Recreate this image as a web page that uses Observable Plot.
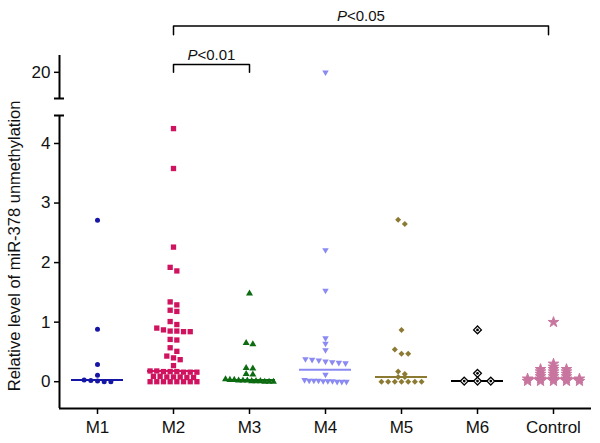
<!DOCTYPE html>
<html><head><meta charset="utf-8">
<script src="https://cdn.jsdelivr.net/npm/d3@7"></script>
<script src="https://cdn.jsdelivr.net/npm/@observablehq/plot@0.6"></script>
<style>
body{margin:0;background:#fff}
#chart{width:600px;height:443px}
</style>
</head><body><div id="chart"></div>
<script>
// ---- data ----
const groups = ["M1","M2","M3","M4","M5","M6","Control"];
const m1 = [2.71,0.88,0.29,0.11,0.03,0.02,0.01,0,0];
const m2 = [4.25,3.58,2.26,1.92,1.86,1.34,1.29,1.20,1.18,1.01,0.96,0.90,0.87,0.85,0.85,0.84,0.84,0.71,0.70,0.57,0.51,0.43,0.40,0.37,0.27,
            0.18,0.18,0.17,0.17,0.17,0.16,0.16,0.16, 0.09,0.09,0.08,0.08,0.08,0.07,0.07, 0,0,0,0,0,0,0,0];
const m3 = [1.48,0.65,0.63,0.23,0.22,0.13,0.12,0.04,0.03,0.03,0.02,0.02,0.02,0.01,0.01,0.01,0,0,0];
const m4 = [20,2.21,1.53,0.73,0.64,0.53,0.38,0.37,0.36,0.34,0.33,0.32,0.31,0.12,0.03,0.02,0.02,0.02,0.01,0.01,0.01,0,0,0];
const m5 = [2.72,2.65,0.87,0.54,0.47,0.47,0.17,0.13,0.08,0.08,0,0,0,0,0,0,0];
const m6 = [0.87,0.14,0.01,0.01,0.01];
const control = [1.0,0.30,0.25,0.21,0.21,0.21,0.17,0.17,0.17,0.13,0.13,0.13,0.09,0.09,0.09,0.05,0.05,0.05,0.05,0.05,0.01,0.01,0.01,0.01,0.01];
const series = [m1,m2,m3,m4,m5,m6,control];
const medians = [0.03,0.18,0.03,0.20,0.08,0.01,0.06];
const yTicks = [0,1,2,3,4,20];
const comparisons = [
  {from:"M2", to:"M3", p:"<0.01"},
  {from:"M2", to:"Control", p:"<0.05"}
];
const yLabel = "Relative level of miR-378 unmethylation";

// ---- layout / styles ----
const W = 600, H = 443, ML = 58, MR = 9, MB = 35;
const bw = (W - ML - MR) / groups.length;
const yDomain = [-0.45, 4.47, 19.56, 21.207];   // broken axis: lower segment, gap, upper segment
const yRange  = [408, 115, 98, 0];
const upperTop = 20.283;
const bracketLevels = [{top:20.13, leg:20.0, trim:0}, {top:20.78, leg:20.63, trim:5}];
const font = "'Liberation Sans', Arial, Helvetica, sans-serif";

const styles = {
  M1:      {symbol:"circle",   fill:"#1616a6", r:2.5, gap:6.7, maxW:48, rowH:4.5},
  M2:      {symbol:"square",   fill:"#d0135f", r:3.0, gap:6.7, maxW:48, rowH:4.5},
  M3:      {symbol:"triangle", fill:"#0d6b12", r:2.6, gap:6.7, maxW:48, rowH:4.5},
  M4:      {symbol:"triangle", fill:"#8a8af2", r:2.4, gap:6.7, maxW:42, rowH:4.5, rotate:180},
  M5:      {symbol:"diamond2", fill:"#8c7a33", r:2.7, gap:6.7, maxW:42, rowH:4.5},
  M6:      {symbol:"diamond2", fill:"#fff", stroke:"#000", sw:1.3, r:3.5, gap:13.3, maxW:48, rowH:4.5},
  Control: {symbol:"star",     fill:"#c8759f", stroke:"#c8759f", sw:1, r:3.3, gap:13, maxW:52, rowH:2}
};
const color = {M1:"#1616a6",M2:"#d0135f",M3:"#0d6b12",M4:"#8a8af2",M5:"#8c7a33",M6:"#000",Control:"#c8759f"};

const yOpts = {type:"linear", domain:yDomain, range:yRange};
const yScale = Plot.scale({y:yOpts});

// GraphPad-like scatter layout: rows by pixel proximity, centred within each row
function rowOffsets(values, gap, maxW, rowH) {
  const idx = d3.range(values.length).sort((a,b) => values[b]-values[a]);
  const off = new Array(values.length).fill(0);
  let row = [], startPx = null;
  const flush = () => {
    const n = row.length;
    const s = n > 1 ? Math.min(gap, maxW/(n-1)) : 0;
    row.forEach((k,i) => off[k] = (i-(n-1)/2)*s);
    row = [];
  };
  for (const k of idx) {
    const px = yScale.apply(values[k]);
    if (row.length && px - startPx > rowH + 1e-9) flush();
    if (!row.length) startPx = px;
    row.push(k);
  }
  flush();
  return off;
}

const marks = [];

// axis lines (broken y axis + x axis)
const axisSegs = [{group:"M1", y1:yDomain[0], y2:yDomain[1]}, {group:"M1", y1:yDomain[2], y2:upperTop}];
marks.push(Plot.ruleX(axisSegs, {fx:"group", x:() => -bw/2, y1:"y1", y2:"y2", stroke:"#000", strokeWidth:2}));
marks.push(Plot.ruleY([{group:"M1", y:yDomain[1]}, {group:"M1", y:yDomain[2]}],
  {fx:"group", y:"y", x1:() => -bw/2, x2:() => -bw/2, insetLeft:-5, insetRight:-5, stroke:"#000", strokeWidth:2}));
marks.push(Plot.ruleY([yDomain[0]], {stroke:"#000", strokeWidth:2}));

// median lines
marks.push(Plot.ruleY(groups.map((g,i) => ({group:g, median:medians[i]})),
  {fx:"group", y:"median", stroke:d => color[d.group], strokeWidth:2, insetLeft:12, insetRight:12}));

// points
groups.forEach((g, gi) => {
  const st = styles[g];
  const vals = series[gi];
  const off = rowOffsets(vals, st.gap, st.maxW, st.rowH);
  const recs = vals.map((v,i) => ({group:g, value:v, off:off[i]}));
  marks.push(Plot.dot(recs, {fx:"group", x:"off", y:"value", symbol:st.symbol, r:st.r,
    fill:st.fill, stroke:st.stroke ?? "none", strokeWidth:st.sw ?? 0, rotate:st.rotate ?? 0}));
  if (g === "M6") {
    marks.push(Plot.dot(recs, {fx:"group", x:"off", y:"value", r:1.4, fill:"#000"}));
  }
});

// significance brackets
const bracketPts = [], bracketText = [];
comparisons.forEach((c, ci) => {
  const lv = bracketLevels[ci];
  const span = (groups.indexOf(c.to) - groups.indexOf(c.from)) * bw - lv.trim;
  [[0,lv.leg],[0,lv.top],[span,lv.top],[span,lv.leg]].forEach(([x,y]) => bracketPts.push({group:c.from, id:ci, x, y}));
  bracketText.push({group:c.from, x:span/2, y:lv.top, p:c.p});
});
marks.push(Plot.line(bracketPts, {fx:"group", x:"x", y:"y", z:"id", stroke:"#000", strokeWidth:1.5}));
marks.push(Plot.text(bracketText, {fx:"group", x:"x", y:"y", text:() => "P", fontStyle:"italic",
  textAnchor:"end", lineAnchor:"bottom", dx:-14, dy:-5, fontSize:15, fill:"#111"}));
marks.push(Plot.text(bracketText, {fx:"group", x:"x", y:"y", text:"p",
  textAnchor:"start", lineAnchor:"bottom", dx:-14, dy:-5, fontSize:15, fill:"#111"}));

// axes
marks.push(Plot.axisY({ticks:yTicks, tickSize:5, tickPadding:4, label:null, fontSize:17, strokeWidth:1.5, fill:"#111"}));
marks.push(Plot.axisFx({anchor:"bottom", tickSize:6, tickPadding:6, label:null, fontSize:17, strokeWidth:1.5, fill:"#111"}));
marks.push(Plot.text([{group:"M1"}], {fx:"group", x:() => -bw/2, y:() => 2.28, text:() => yLabel,
  rotate:-90, dx:-45, fontSize:16.5, textAnchor:"middle", lineAnchor:"middle", fill:"#111"}));

const chart = Plot.plot({
  width: W, height: H,
  marginLeft: ML, marginRight: MR, marginTop: 0, marginBottom: MB,
  style: {fontFamily: font, fontSize: "17px", background: "#fff", overflow: "visible"},
  fx: {domain: groups, padding: 0, label: null},
  x: {domain: [-bw/2, bw/2], axis: null},
  y: yOpts,
  marks
});
document.getElementById("chart").appendChild(chart);
</script>
</body></html>
